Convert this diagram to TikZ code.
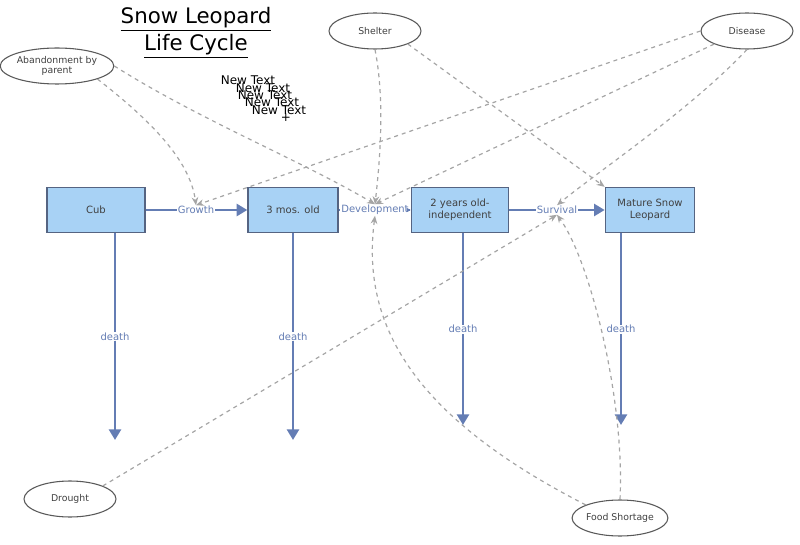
\documentclass[tikz,border=0pt]{standalone}
\usepackage{fontspec}
\setmainfont{DejaVu Sans}
\usetikzlibrary{arrows.meta,shapes.geometric}
\definecolor{boxfill}{RGB}{168,210,245}
\definecolor{boxdraw}{RGB}{85,100,130}
\definecolor{flow}{RGB}{100,125,180}
\definecolor{dep}{RGB}{165,165,165}
\begin{document}
\begin{tikzpicture}[x=0.75pt,y=-0.75pt,
 stock/.style={draw=boxdraw,fill=boxfill,line width=1pt,minimum width=72pt,minimum height=33.75pt,inner sep=1pt,align=center,font=\fontsize{7.5}{9}\selectfont,text=black!75},
 cloud/.style={ellipse,draw=black!65,line width=0.8pt,fill=white,minimum width=69pt,minimum height=27pt,inner sep=0pt,align=center,font=\fontsize{7}{8}\selectfont,text=black!75},
 fl/.style={draw=flow,line width=2pt,-{Triangle[length=8pt,width=9pt]}},
 lab/.style={font=\fontsize{7.5}{8}\selectfont,text=flow,fill=white,inner sep=0.5pt},
 dl/.style={draw=dep,dashed,line width=0.9pt,-{Stealth[length=6pt,width=5pt]}},
 nt/.style={font=\fontsize{9}{9}\selectfont,inner sep=0pt}]
\useasboundingbox (0,0) rectangle (800,545);
\node[stock,minimum width=73.5pt] (cub) at (96,210) {Cub};
\node[stock,minimum width=67.5pt] (m3) at (293,210) {3 mos. old};
\node[stock,minimum width=73pt] (y2) at (460,210) {2 years old-\\independent};
\node[stock,minimum width=67pt] (ma) at (650,210) {Mature Snow\\Leopard};
\node[lab] (g) at (196,210) {Growth};
\node[lab] (d) at (375,210) {Development};
\node[lab] (s) at (557,210) {Survival};
\draw[draw=flow,line width=2pt] (cub.east) -- (g.west);
\draw[fl] (g.east) -- (m3.west);
\draw[draw=flow,line width=2pt] (m3.east) -- (d.west);
\draw[draw=flow,line width=1pt,-{Triangle[length=3pt,width=3pt]}] (d.east) -- (y2.west);
\draw[draw=flow,line width=2pt] (y2.east) -- (s.west);
\draw[fl] (s.east) -- (ma.west);
\coordinate (e1) at (115,440); \coordinate (e2) at (293,440);
\coordinate (e3) at (463,425); \coordinate (e4) at (621,425);
\draw[fl] (cub.south -| e1) -- node[lab,pos=0.5]{death} (e1);
\draw[fl] (m3.south -| e2) -- node[lab,pos=0.5]{death} (e2);
\draw[fl] (y2.south -| e3) -- node[lab,pos=0.5]{death} (e3);
\draw[fl] (ma.south -| e4) -- node[lab,pos=0.5]{death} (e4);
\node[cloud] (ab) at (57,66) {Abandonment by\\parent};
\node[cloud] (sh) at (375,31) {Shelter};
\node[cloud] (di) at (747,31) {Disease};
\node[cloud] (dr) at (70,499) {Drought};
\node[cloud] (fs) at (620,518) {Food Shortage};
\node[font=\fontsize{16}{16}\selectfont] (t1) at (196,19) {\underline{Snow Leopard}};
\node[font=\fontsize{16}{16}\selectfont] (t2) at (196,46) {\underline{Life Cycle}};
\node[nt] (n1) at (248,80) {New Text};
\node[nt] (n2) at (263,88) {New Text};
\node[nt] (n3) at (265,95) {New Text};
\node[nt] (n4) at (272,102) {New Text};
\node[nt] (n5) at (279,110) {New Text};
\node[nt] (n6) at (286,118) {+};
\draw[dl] (ab.south east) .. controls (150,120) and (190,160) .. (g.north);
\draw[dl] (ab.east) .. controls (200,120) and (300,160) .. (d.north);
\draw[dl] (sh.south) .. controls (385,100) and (380,160) .. (d.north);
\draw[dl] (sh.south east) -- (ma.north west);
\draw[dl] (di.west) -- (g.north);
\draw[dl] (di.south west) -- (d.north);
\draw[dl] (di.south) .. controls (690,110) and (600,170) .. (s.north);
\draw[dl] (dr.north east) -- (s.south);
\draw[dl] (fs.north west) .. controls (420,420) and (360,330) .. (d.south);
\draw[dl] (fs.north) .. controls (625,400) and (590,260) .. (s.south);
\end{tikzpicture}
\end{document}
